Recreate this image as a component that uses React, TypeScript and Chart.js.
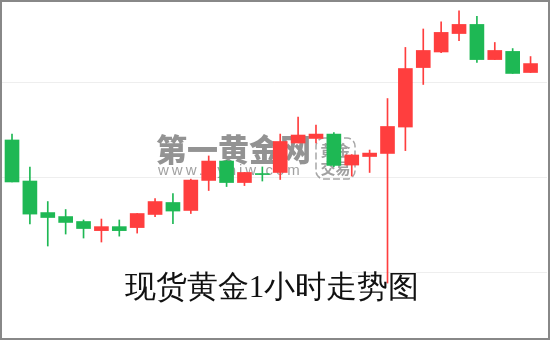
import { useEffect, useRef } from "react";
import { Chart, registerables } from "chart.js";

Chart.register(...registerables);

// Hourly OHLC prices, oldest first
const opens = [
  1296.95, 1294.79, 1293.13, 1292.92, 1292.66, 1292.18, 1292.39, 1292.34, 1293.03, 1293.66,
  1293.24, 1294.82, 1295.84, 1294.71, 1295.18, 1295.24, 1296.79, 1297.03, 1297.26, 1295.63,
  1296.08, 1296.24, 1297.63, 1300.76, 1301.58, 1302.55, 1303.03, 1301.18, 1301.61, 1300.5,
];
const highs = [
  1297.26, 1295.53, 1293.71, 1293.29, 1292.74, 1292.79, 1292.74, 1293.08, 1293.87, 1294.13,
  1294.89, 1296.11, 1295.87, 1295.24, 1295.53, 1297.26, 1298.16, 1297.74, 1297.34, 1296.18,
  1296.42, 1299.13, 1301.82, 1302.79, 1303.16, 1303.74, 1303.45, 1302.08, 1301.76, 1301.34,
];
const lows = [
  1294.74, 1292.53, 1291.37, 1292.0, 1291.79, 1291.58, 1291.89, 1292.05, 1292.92, 1292.55,
  1293.08, 1294.29, 1294.5, 1294.55, 1294.79, 1294.87, 1296.79, 1296.79, 1295.55, 1295.05,
  1295.24, 1289.42, 1296.39, 1299.87, 1301.55, 1302.18, 1301.03, 1301.18, 1300.45, 1300.5,
];
const closes = [
  1294.74, 1293.05, 1292.87, 1292.61, 1292.29, 1292.39, 1292.18, 1293.08, 1293.71, 1293.21,
  1294.84, 1295.84, 1294.71, 1295.24, 1295.13, 1296.87, 1297.21, 1297.26, 1295.61, 1296.16,
  1296.26, 1297.66, 1300.71, 1301.66, 1302.61, 1303.03, 1301.18, 1301.66, 1300.45, 1300.97,
];
const gridValues = [1290, 1295, 1300];

const titleText = "现货黄金1小时走势图";
const brandText = "第一黄金网";
const siteText = "www.dyhjw.com";
const sealLines = ["黄金", "交易"];

const UP = "#ff3e3e";
const DOWN = "#1eb854";

const decor = {
  id: "decor",
  beforeDraw(chart: Chart) {
    const ctx = chart.ctx;
    ctx.save();
    ctx.fillStyle = "#ffffff";
    ctx.fillRect(0, 0, chart.width, chart.height);
    ctx.restore();
  },
  beforeDatasetsDraw(chart: Chart) {
    // brand watermark sits under the candles
    const ctx = chart.ctx;
    ctx.save();
    ctx.fillStyle = "rgba(120,120,120,0.8)";
    ctx.textBaseline = "middle";
    ctx.textAlign = "left";
    ctx.font = "900 31px 'Noto Sans CJK SC'";
    ctx.fillText(brandText, 156, 149);
    ctx.fillStyle = "rgba(130,130,130,0.75)";
    ctx.font = "15px 'Liberation Sans'";
    (ctx as any).letterSpacing = "3px";
    ctx.fillText(siteText, 158, 171);
    (ctx as any).letterSpacing = "0px";
    ctx.strokeStyle = "rgba(130,130,130,0.7)";
    ctx.lineWidth = 1.5;
    ctx.setLineDash([7, 3]);
    ctx.beginPath();
    ctx.roundRect(316, 138, 39, 41, 8);
    ctx.stroke();
    ctx.setLineDash([]);
    ctx.font = "700 15px 'Noto Sans CJK SC'";
    ctx.textAlign = "center";
    ctx.fillText(sealLines[0], 335.5, 150);
    ctx.fillText(sealLines[1], 335.5, 168);
    ctx.restore();
  },
  afterDraw(chart: Chart) {
    const ctx = chart.ctx;
    ctx.save();
    ctx.fillStyle = "#ffffff";
    ctx.fillRect(2, 262, 350, 40);
    ctx.fillStyle = "#111111";
    ctx.font = "31px serif";
    ctx.textAlign = "center";
    ctx.textBaseline = "middle";
    ctx.fillText(titleText, 272, 289);
    ctx.strokeStyle = "#888888";
    ctx.lineWidth = 2;
    ctx.strokeRect(1, 1, 548, 338);
    ctx.restore();
  },
};

export default function App() {
  const ref = useRef<HTMLCanvasElement>(null);

  useEffect(() => {
    document.body.style.margin = "0";
    const idx = opens.map((_, i) => i);
    const colors = idx.map((i) => (closes[i] >= opens[i] ? UP : DOWN));
    const chart = new Chart(ref.current!, {
      type: "bar",
      data: {
        datasets: [
          {
            label: "body",
            data: idx.map((i) => ({ x: i, y: [opens[i], closes[i]] })) as any,
            backgroundColor: colors,
            barThickness: 14,
            grouped: false,
            minBarLength: 1,
          },
          {
            label: "wick",
            data: idx.map((i) => ({ x: i, y: [lows[i], highs[i]] })) as any,
            backgroundColor: colors,
            barThickness: 1,
            grouped: false,
          },
        ],
      },
      options: {
        responsive: false,
        animation: false,
        layout: { padding: { left: 2, right: 3, top: 2, bottom: 2 } },
        plugins: { legend: { display: false }, tooltip: { enabled: false } },
        scales: {
          x: { type: "linear", min: -0.56, max: 29.92, offset: false, display: false },
          y: {
            min: 1286.53,
            max: 1304.21,
            ticks: { display: false },
            grid: { drawTicks: false, color: "#eeeeee", lineWidth: 1 },
            border: { display: false },
            afterBuildTicks: (scale: any) => {
              scale.ticks = gridValues.map((v) => ({ value: v }));
            },
          },
        },
      },
      plugins: [decor],
    });
    return () => chart.destroy();
  }, []);

  return <canvas ref={ref} width={550} height={340} style={{ display: "block" }} />;
}
